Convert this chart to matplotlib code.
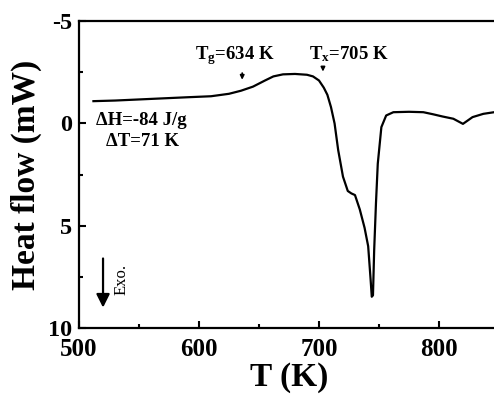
import matplotlib
matplotlib.use("Agg")
import matplotlib.pyplot as plt
from matplotlib.ticker import MultipleLocator

plt.rcParams['font.family'] = ['Liberation Serif', 'DejaVu Serif']
plt.rcParams['font.weight'] = 'bold'
plt.rcParams['axes.unicode_minus'] = False
plt.rcParams['mathtext.fontset'] = 'custom'
plt.rcParams['mathtext.rm'] = 'Liberation Serif:bold'
plt.rcParams['mathtext.it'] = 'Liberation Serif:bold'
plt.rcParams['mathtext.bf'] = 'Liberation Serif:bold'

# Data
temperature = [512, 530, 560, 590, 610, 625, 635, 645, 655, 662, 670, 680, 690, 695,
               700, 704, 707, 710, 713, 716, 720, 724, 727, 730, 734, 738, 741, 743,
               744, 745, 746, 747.5, 749, 752, 756, 762, 775, 787, 795, 803, 812, 820,
               828, 837, 846]
heat_flow = [-1.09, -1.12, -1.2, -1.28, -1.33, -1.45, -1.6, -1.8, -2.1, -2.3, -2.4, -2.42,
             -2.38, -2.3, -2.1, -1.75, -1.4, -0.8, 0.0, 1.3, 2.6, 3.3, 3.42, 3.5, 4.2, 5.1,
             6.0, 7.6, 8.47, 8.4, 6.2, 3.9, 1.97, 0.18, -0.39, -0.55, -0.57, -0.55, -0.45,
             -0.34, -0.23, 0.02, -0.31, -0.47, -0.55]
x_ticks = [500, 600, 700, 800]
y_ticks = [-5, 0, 5, 10]
tg_value = 634
tx_value = 705

fig = plt.figure(figsize=(4.94, 4.07), dpi=100)
ax = fig.add_axes([0.160, 0.194, 0.850, 0.754])
ax.plot(temperature, heat_flow, color='black', lw=1.6)

ax.set_xlim(500, 850)
ax.set_ylim(10, -5)
ax.set_xticks(x_ticks)
ax.set_yticks(y_ticks)
ax.xaxis.set_minor_locator(MultipleLocator(50))
ax.yaxis.set_minor_locator(MultipleLocator(2.5))
ax.tick_params(which='both', direction='in', top=False, right=False, width=1.5)
ax.tick_params(which='major', length=5)
ax.tick_params(which='minor', length=3)
ax.tick_params(axis='x', labelsize=18, pad=7)
ax.tick_params(axis='y', labelsize=17.5, pad=5)
for lab in ax.get_xticklabels() + ax.get_yticklabels():
    lab.set_fontweight('bold')
for s in ax.spines.values():
    s.set_linewidth(1.6)

ax.set_xlabel('T (K)', fontsize=24, fontweight='bold', labelpad=1)
ax.set_ylabel('Heat flow (mW)', fontsize=24, fontweight='bold', labelpad=4)

ax.text(552, -0.15, 'ΔH=-84 J/g', fontsize=13.5, fontweight='bold', ha='center', va='center')
ax.text(553, 0.88, 'ΔT=71 K', fontsize=13.5, fontweight='bold', ha='center', va='center')
ax.text(630, -3.3, r'$\mathrm{T_g}$=%d K' % tg_value, fontsize=13.5, fontweight='bold',
        ha='center', va='center')
ax.text(725, -3.4, r'$\mathrm{T_x}$=%d K' % tx_value, fontsize=13.5, fontweight='bold',
        ha='center', va='center')

ax.annotate('', xy=(636, -2.0), xytext=(636, -2.6),
            arrowprops=dict(arrowstyle='-|>', lw=1.2, color='black', mutation_scale=6))
ax.annotate('', xy=(703.3, -2.4), xytext=(703.3, -2.9),
            arrowprops=dict(arrowstyle='-|>', lw=1.2, color='black', mutation_scale=6))

ax.annotate('', xy=(520, 9.0), xytext=(520, 6.6),
            arrowprops=dict(arrowstyle='-|>', lw=1.6, color='black', mutation_scale=20,
                            shrinkA=0, shrinkB=0))
ax.text(535.5, 7.6, 'Exo.', fontsize=12, fontweight='normal', rotation=90,
        ha='center', va='center')

fig.savefig('out.png', dpi=100)
